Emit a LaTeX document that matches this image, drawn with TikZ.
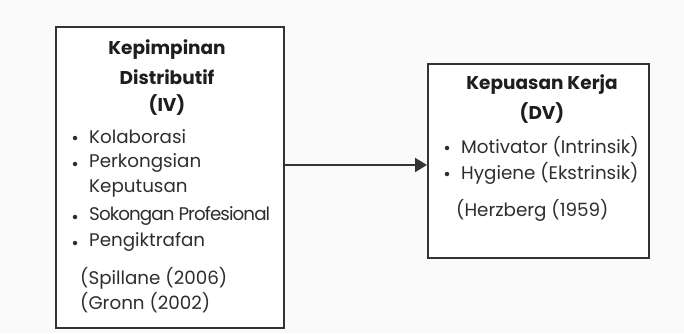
\documentclass[tikz,border=0pt]{standalone}
\usepackage{fontspec}
\setmainfont{Poppins}
\usepackage{tikz}
\usetikzlibrary{arrows.meta, positioning}

\definecolor{boxline}{HTML}{333333}
\definecolor{txtdark}{HTML}{1E1E1E}
\definecolor{txtbody}{HTML}{2E2E2E}
\definecolor{bgpage}{HTML}{FAFAFA}

\tikzset{
  varbox/.style={draw=boxline, line width=2pt, fill=white},
  title/.style={font=\bfseries\fontsize{18.5}{20}\selectfont, text=txtdark, inner sep=0pt},
  item/.style={font=\fontsize{18.3}{20}\selectfont, text=txtbody, anchor=west, inner sep=0pt},
  dot/.style={circle, fill=txtbody, inner sep=0pt, minimum size=4.5pt},
}

\begin{document}
\begin{tikzpicture}[x=1pt, y=-1pt]
  \fill[bgpage] (0,0) rectangle (684,333);
  \useasboundingbox (0,0) rectangle (684,333);

  % kotak IV
  \node[varbox, minimum width=228pt, minimum height=301pt] (iv) at (170,177.5) {};
  \node[title] (ivt1) at (167,50) {Kepimpinan};
  \node[title] (ivt2) at (167,77) {Distributif};
  \node[title] (ivt3) at (167,105) {(IV)};
  \node[dot] (ivd1) at (75,138) {};
  \node[item] (ivi1) at (89,137) {Kolaborasi};
  \node[dot] (ivd2) at (75,164) {};
  \node[item] (ivi2) at (89,163) {Perkongsian};
  \node[item] (ivi2b) at (89,188) {Keputusan};
  \node[dot] (ivd3) at (75,217) {};
  \node[item, font=\fontsize{18.3}{20}\selectfont\addfontfeature{LetterSpace=-5}] (ivi3) at (89,216) {Sokongan Profesional};
  \node[dot] (ivd4) at (75,243) {};
  \node[item] (ivi4) at (89,242) {Pengiktrafan};
  \node[item] (ivr1) at (80,278) {(Spillane (2006)};
  \node[item] (ivr2) at (80,303) {(Gronn (2002)};

  % kotak DV
  \node[varbox, minimum width=221pt, minimum height=194pt] (dv) at (538.5,161) {};
  \node[title] (dvt1) at (542,85) {Kepuasan Kerja};
  \node[title] (dvt2) at (542,113) {(DV)};
  \node[dot] (dvd1) at (447,148) {};
  \node[item] (dvi1) at (461,147) {Motivator (Intrinsik)};
  \node[dot] (dvd2) at (447,174) {};
  \node[item] (dvi2) at (461,173) {Hygiene (Ekstrinsik)};
  \node[item] (dvr1) at (456,210) {(Herzberg (1959)};

  % anak panah
  \draw[draw=boxline, line width=2pt, -{Triangle[length=12pt, width=14pt]}]
    ([yshift=-4pt]iv.east |- dv.west) -- ([yshift=-4pt]dv.west);
\end{tikzpicture}
\end{document}
